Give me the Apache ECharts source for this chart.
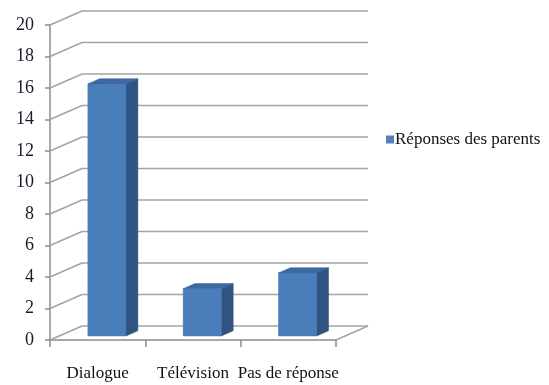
<!DOCTYPE html>
<html>
<head>
<meta charset="utf-8">
<script src="https://cdn.jsdelivr.net/npm/echarts@6/dist/echarts.min.js"></script>
<style>html,body{margin:0;padding:0;background:#fff}#c{width:549px;height:385px}</style>
</head>
<body>
<div id="c"></div>
<script>
const categories = ['Dialogue', 'Télévision', 'Pas de réponse'];
const values = [16, 3, 4];
const seriesName = 'Réponses des parents';
const yTicks = [0, 2, 4, 6, 8, 10, 12, 14, 16, 18, 20];

const DX = 32, DY = -14;      // depth offset of the back wall
const F1 = 0.29, F2 = 0.66;   // bar front/back depth fractions
const BAR_W = 0.4;            // bar width as fraction of band

const chart = echarts.init(document.getElementById('c'));
const font = '"Liberation Serif", "Times New Roman", serif';

chart.setOption({
  animation: false,
  grid: { left: 50, right: 213, top: 25, bottom: 45 },
  legend: {
    data: [{ name: seriesName, icon: 'rect' }],
    left: 381, top: 126,
    itemWidth: 8, itemHeight: 8, itemGap: 4,
    textStyle: { fontFamily: font, fontSize: 17, color: '#111', padding: [0, 0, 0, -4] }
  },
  xAxis: {
    type: 'category',
    data: categories,
    axisLine: { lineStyle: { color: '#8c8c8c', width: 1.5 } },
    axisTick: { show: true, length: 7, lineStyle: { color: '#8c8c8c', width: 1.5 } },
    axisLabel: { interval: 0, fontFamily: font, fontSize: 17, color: '#111', margin: 25 },
    splitLine: { show: false }
  },
  yAxis: {
    type: 'value',
    min: 0, max: 20, interval: 2,
    axisLine: { show: true, lineStyle: { color: '#8c8c8c', width: 1.5 } },
    axisTick: { show: true, length: 5, lineStyle: { color: '#8c8c8c', width: 1.5 } },
    axisLabel: { fontFamily: font, fontSize: 18, color: '#1a1a2a', margin: 16 },
    splitLine: { show: false }
  },
  series: [
    {
      type: 'custom',
      name: 'walls',
      silent: true,
      z: 1,
      data: yTicks.map(v => [0, v]),
      renderItem: function (params, api) {
        const cs = params.coordSys;
        const y = api.coord([0, api.value(1)])[1];
        const x0 = cs.x, x1 = cs.x + cs.width;
        const style = { stroke: '#a3a3a3', lineWidth: 1.5, fill: null };
        const children = [
          { type: 'line', shape: { x1: x0, y1: y, x2: x0 + DX, y2: y + DY }, style },
          { type: 'line', shape: { x1: x0 + DX, y1: y + DY, x2: x1 + DX, y2: y + DY }, style }
        ];
        if (api.value(1) === 0) {
          children.push({ type: 'line', shape: { x1: x1, y1: y, x2: x1 + DX, y2: y + DY }, style });
        }
        return { type: 'group', children };
      }
    },
    {
      type: 'custom',
      name: seriesName,
      z: 3,
      itemStyle: { color: '#4F81BD' },
      data: values.map((v, i) => [i, v]),
      renderItem: function (params, api) {
        const top = api.coord([api.value(0), api.value(1)]);
        const bot = api.coord([api.value(0), 0]);
        const bw = api.size([1, 0])[0] * BAR_W;
        const xl = top[0] - bw / 2, xr = top[0] + bw / 2;
        const yt = top[1], yb = bot[1];
        const a = [F1 * DX, F1 * DY], b = [F2 * DX, F2 * DY];
        return {
          type: 'group',
          children: [
            { type: 'polygon', shape: { points: [[xr + a[0], yt + a[1]], [xr + b[0], yt + b[1]], [xr + b[0], yb + b[1]], [xr + a[0], yb + a[1]]] },
              style: { fill: '#2f5482', stroke: '#2a4a75', lineWidth: 0.5 } },
            { type: 'polygon', shape: { points: [[xl + a[0], yt + a[1]], [xr + a[0], yt + a[1]], [xr + b[0], yt + b[1]], [xl + b[0], yt + b[1]]] },
              style: { fill: '#3d68a0', stroke: '#355d92', lineWidth: 0.5 } },
            { type: 'rect', shape: { x: xl + a[0], y: yt + a[1], width: bw, height: yb - yt },
              style: { fill: '#4a7ebb', stroke: '#416fa8', lineWidth: 0.5 } }
          ]
        };
      }
    }
  ]
});
</script>
</body>
</html>
